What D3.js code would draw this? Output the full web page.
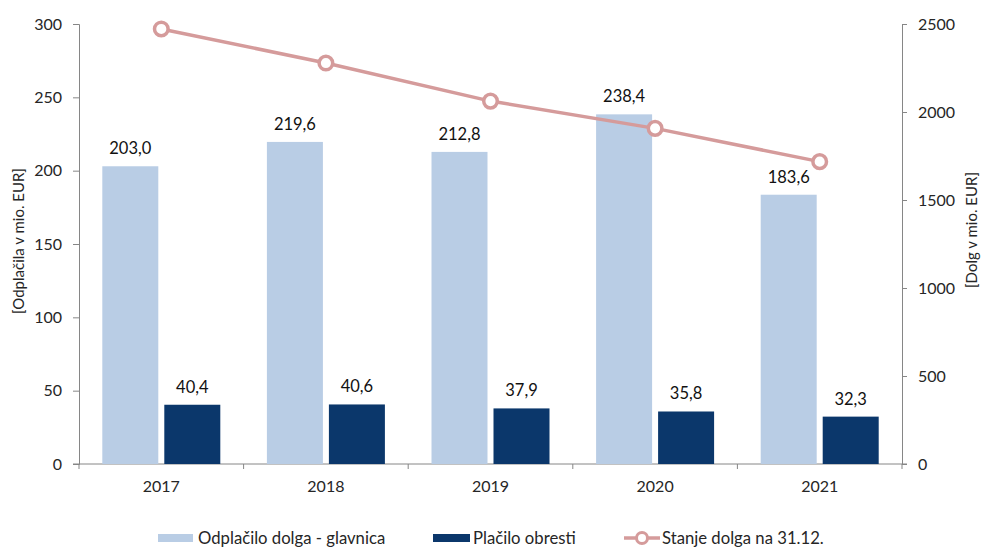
<!DOCTYPE html>
<html>
<head>
<meta charset="utf-8">
<script src="https://cdn.jsdelivr.net/npm/d3@7"></script>
<style>
  body { margin: 0; background: #fff; }
  svg { display: block; font-family: Lato, "Open Sans", sans-serif; }
</style>
</head>
<body>
<svg id="chart" width="983" height="549"></svg>
<script>
// Annual figures
const years = ["2017", "2018", "2019", "2020", "2021"];
const principal = [203.0, 219.6, 212.8, 238.4, 183.6];   // Odplačilo dolga - glavnica
const interest = [40.4, 40.6, 37.9, 35.8, 32.3];         // Plačilo obresti
const debtStock = [2472, 2278, 2062, 1907, 1718];        // Stanje dolga na 31.12.
const leftTicks = [0, 50, 100, 150, 200, 250, 300];
const rightTicks = [0, 500, 1000, 1500, 2000, 2500];
const seriesNames = ["Odplačilo dolga - glavnica", "Plačilo obresti", "Stanje dolga na 31.12."];

(function draw() {
  const colLight = "#b9cde5", colDark = "#0b376b", colLine = "#d59b9b";
  const axisCol = "#868686", textCol = "#262626";
  const fmt = v => v.toFixed(1).replace(".", ",");

  const svg = d3.select("#chart");
  const plotL = 79, plotR = 902, plotT = 24, plotB = 464;

  const x = d3.scaleBand().domain(years).range([plotL, plotR]);
  const yL = d3.scaleLinear().domain([0, 300]).range([plotB, plotT]);
  const yR = d3.scaleLinear().domain([0, 2500]).range([plotB, plotT]);

  const barW = 56, gap = 6;

  // axes
  const axL = svg.append("g").attr("transform", `translate(${plotL},0)`)
    .call(d3.axisLeft(yL).tickValues(leftTicks).tickSize(6).tickPadding(11));
  const axR = svg.append("g").attr("transform", `translate(${plotR},0)`)
    .call(d3.axisRight(yR).tickValues(rightTicks).tickFormat(d3.format("d")).tickSize(5).tickPadding(11));
  const axB = svg.append("g").attr("transform", `translate(0,${plotB})`)
    .call(d3.axisBottom(x).tickSize(0).tickPadding(17));
  axB.select(".domain").attr("d", `M${plotL - 6},0H${plotR + 5}`);
  // small ticks on the category axis at band boundaries
  axB.selectAll(".catTick").data(d3.range(years.length + 1)).enter().append("line")
    .attr("x1", i => plotL + i * x.bandwidth()).attr("x2", i => plotL + i * x.bandwidth())
    .attr("y1", 0).attr("y2", 5).attr("stroke", axisCol);
  [axL, axR, axB].forEach(a => {
    a.selectAll(".domain").attr("stroke", axisCol);
    a.selectAll(".tick line").attr("stroke", axisCol);
    a.selectAll("text").attr("font-size", 16).attr("fill", textCol)
      .attr("font-family", "Lato, 'Open Sans', sans-serif");
  });

  // bars
  const g = svg.append("g");
  g.selectAll(".p").data(years).enter().append("rect")
    .attr("x", d => x(d) + x.bandwidth() / 2 - gap / 2 - barW)
    .attr("y", (d, i) => yL(principal[i]))
    .attr("width", barW)
    .attr("height", (d, i) => plotB - yL(principal[i]))
    .attr("fill", colLight);
  g.selectAll(".q").data(years).enter().append("rect")
    .attr("x", d => x(d) + x.bandwidth() / 2 + gap / 2)
    .attr("y", (d, i) => yL(interest[i]))
    .attr("width", barW)
    .attr("height", (d, i) => plotB - yL(interest[i]))
    .attr("fill", colDark);

  // value labels
  g.selectAll(".lp").data(years).enter().append("text")
    .attr("x", d => x(d) + x.bandwidth() / 2 - gap / 2 - barW / 2)
    .attr("y", (d, i) => yL(principal[i]) - 12)
    .attr("text-anchor", "middle").attr("font-size", 16.5).attr("fill", "#111")
    .text((d, i) => fmt(principal[i]));
  g.selectAll(".lq").data(years).enter().append("text")
    .attr("x", d => x(d) + x.bandwidth() / 2 + gap / 2 + barW / 2)
    .attr("y", (d, i) => yL(interest[i]) - 12)
    .attr("text-anchor", "middle").attr("font-size", 16.5).attr("fill", "#111")
    .text((d, i) => fmt(interest[i]));

  // debt stock line
  const line = d3.line().x(d => x(d[0]) + x.bandwidth() / 2).y(d => yR(d[1]));
  const pts = years.map((y, i) => [y, debtStock[i]]);
  svg.append("path").datum(pts).attr("d", line)
    .attr("fill", "none").attr("stroke", colLine).attr("stroke-width", 3.5);
  svg.selectAll(".m").data(pts).enter().append("circle")
    .attr("cx", d => x(d[0]) + x.bandwidth() / 2).attr("cy", d => yR(d[1]))
    .attr("r", 6.8).attr("fill", "#fff").attr("stroke", colLine).attr("stroke-width", 3.5);

  // axis titles
  svg.append("text").attr("transform", `translate(24,241) rotate(-90)`)
    .attr("text-anchor", "middle").attr("font-size", 15).attr("fill", textCol)
    .text("[Odplačila v mio. EUR]");
  svg.append("text").attr("transform", `translate(977,230) rotate(-90)`)
    .attr("text-anchor", "middle").attr("font-size", 15).attr("fill", textCol)
    .text("[Dolg v mio. EUR]");

  // legend
  const leg = svg.append("g").attr("font-size", 16.7).attr("fill", textCol);
  leg.append("rect").attr("x", 158).attr("y", 534).attr("width", 35).attr("height", 8).attr("fill", colLight);
  leg.append("text").attr("x", 198).attr("y", 544).text(seriesNames[0]);
  leg.append("rect").attr("x", 433).attr("y", 534).attr("width", 37).attr("height", 8).attr("fill", colDark);
  leg.append("text").attr("x", 473).attr("y", 544).text(seriesNames[1]);
  leg.append("line").attr("x1", 624).attr("x2", 660).attr("y1", 538).attr("y2", 538)
    .attr("stroke", colLine).attr("stroke-width", 3.5);
  leg.append("circle").attr("cx", 642).attr("cy", 538).attr("r", 5.5)
    .attr("fill", "#fff").attr("stroke", colLine).attr("stroke-width", 3);
  leg.append("text").attr("x", 662).attr("y", 544).text(seriesNames[2]);
})();
</script>
</body>
</html>
